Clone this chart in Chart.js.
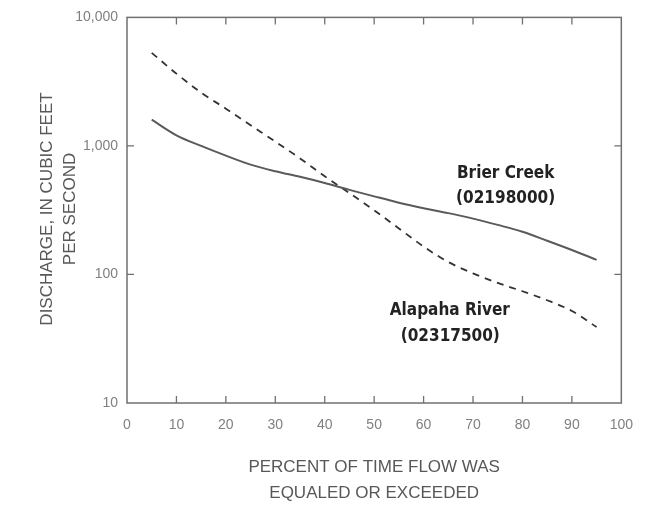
<!DOCTYPE html>
<html>
<head>
<meta charset="utf-8">
<script src="https://cdn.jsdelivr.net/npm/chart.js@4/dist/chart.umd.min.js"></script>
<style>
  html, body { margin: 0; padding: 0; background: #fff; }
  #wrap { width: 647px; height: 508px; position: relative; }
</style>
</head>
<body>
<div id="wrap"><canvas id="flowChart"></canvas></div>
<script>
const percents = [5, 10, 15, 20, 25, 30, 35, 40, 45, 50, 55, 60, 65, 70, 75, 80, 85, 90, 95];
const brierCreek = [1600, 1210, 1000, 840, 715, 635, 575, 515, 455, 405, 362, 328, 300, 272, 243, 215, 183, 155, 130];
const alapahaRiver = [5300, 3650, 2600, 1950, 1450, 1080, 800, 580, 430, 316, 228, 165, 125, 102, 86, 74, 63, 52, 39];
const xTicks = [0, 10, 20, 30, 40, 50, 60, 70, 80, 90, 100];
const yTicks = [10, 100, 1000, 10000];

const xTitle = ["PERCENT OF TIME FLOW WAS", "EQUALED OR EXCEEDED"];
const yTitle = ["DISCHARGE, IN CUBIC FEET", "PER SECOND"];

const labels = [
  { text: "Brier Creek", x: 76.6, y: 610 },
  { text: "(02198000)", x: 76.6, y: 390 },
  { text: "Alapaha River", x: 65.3, y: 52 },
  { text: "(02317500)", x: 65.4, y: 33 },
];

const frameColor = "#707070";
const tickFont = { family: "'Liberation Sans', Arial, sans-serif", size: 14 };
const titleFont = "17px 'Liberation Sans', Arial, sans-serif";

// frame, inward ticks, axis titles and the series labels
const extras = {
  id: "extras",
  afterDraw(chart) {
    const { ctx, chartArea: a, scales: { x, y } } = chart;
    ctx.save();
    ctx.strokeStyle = frameColor;
    ctx.lineWidth = 1.5;
    ctx.strokeRect(a.left, a.top, a.right - a.left, a.bottom - a.top);

    ctx.lineWidth = 1.3;
    ctx.beginPath();
    xTicks.slice(1, -1).forEach(v => {
      const px = x.getPixelForValue(v);
      ctx.moveTo(px, a.bottom); ctx.lineTo(px, a.bottom - 7);
      ctx.moveTo(px, a.top); ctx.lineTo(px, a.top + 7);
    });
    yTicks.slice(1, -1).forEach(v => {
      const py = y.getPixelForValue(v);
      ctx.moveTo(a.left, py); ctx.lineTo(a.left + 7, py);
      ctx.moveTo(a.right, py); ctx.lineTo(a.right - 7, py);
    });
    ctx.stroke();

    // axis titles
    ctx.fillStyle = "#585858";
    ctx.font = titleFont;
    ctx.textAlign = "center";
    ctx.textBaseline = "middle";
    const cx = (a.left + a.right) / 2;
    ctx.fillText(xTitle[0], cx, 467);
    ctx.fillText(xTitle[1], cx, 493);
    ctx.save();
    ctx.translate(47, 209);
    ctx.rotate(-Math.PI / 2);
    ctx.fillText(yTitle[0], 0, 0);
    ctx.fillText(yTitle[1], 0, 23);
    ctx.restore();

    ctx.fillStyle = "#222";
    ctx.font = "bold 17px 'DejaVu Sans Condensed', 'Liberation Sans Narrow', sans-serif";
    labels.forEach(l => {
      ctx.fillText(l.text, x.getPixelForValue(l.x), y.getPixelForValue(l.y));
    });
    ctx.restore();
  }
};

new Chart(document.getElementById("flowChart"), {
  type: "line",
  data: {
    labels: percents,
    datasets: [
      {
        label: "Brier Creek (02198000)",
        data: percents.map((p, i) => ({ x: p, y: brierCreek[i] })),
        borderColor: "#5a5a5a",
        borderWidth: 2,
        pointRadius: 0,
        cubicInterpolationMode: "monotone",
      },
      {
        label: "Alapaha River (02317500)",
        data: percents.map((p, i) => ({ x: p, y: alapahaRiver[i] })),
        borderColor: "#333",
        borderWidth: 1.8,
        borderDash: [7, 6],
        pointRadius: 0,
        cubicInterpolationMode: "monotone",
      },
    ],
  },
  options: {
    responsive: true,
    maintainAspectRatio: false,
    animation: false,
    layout: { padding: { top: 17, right: 19, bottom: 0, left: 0 } },
    plugins: { legend: { display: false }, tooltip: { enabled: false } },
    scales: {
      x: {
        type: "linear",
        min: 0,
        max: 100,
        afterBuildTicks: (s) => { s.ticks = xTicks.map(v => ({ value: v })); },
        afterFit: (s) => { s.height = 105; },
        grid: { display: false, drawTicks: false },
        border: { display: false },
        ticks: { color: "#808080", font: tickFont, padding: 14 },
      },
      y: {
        type: "logarithmic",
        min: 10,
        max: 10000,
        afterBuildTicks: (s) => { s.ticks = yTicks.map(v => ({ value: v })); },
        afterFit: (s) => { s.width = 127; },
        grid: { display: false, drawTicks: false },
        border: { display: false },
        ticks: {
          color: "#808080",
          font: tickFont,
          padding: 9,
          callback: (v) => Number(v).toLocaleString("en-US"),
        },
      },
    },
  },
  plugins: [extras],
});
</script>
</body>
</html>
